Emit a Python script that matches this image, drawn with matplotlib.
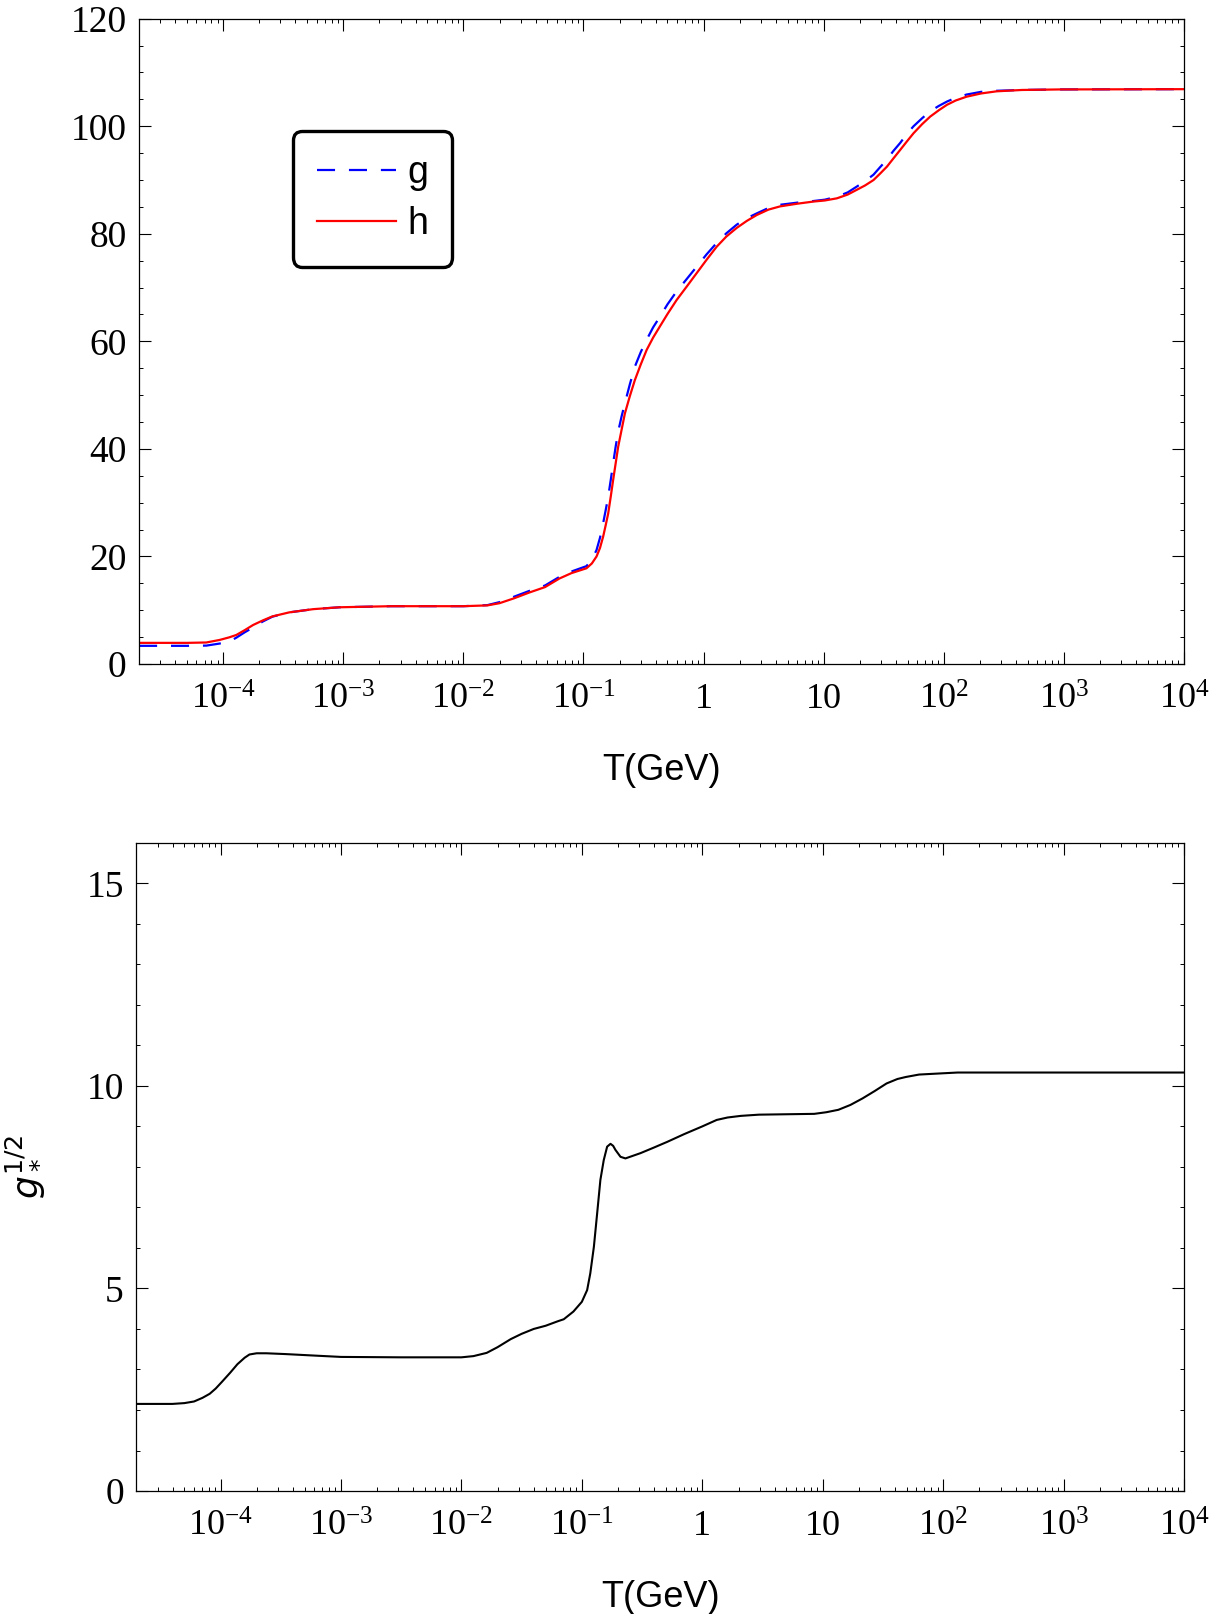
import numpy as np
import matplotlib
matplotlib.use('Agg')
import matplotlib.pyplot as plt
from matplotlib.ticker import FixedLocator, FixedFormatter, LogLocator, MultipleLocator, NullFormatter

plt.rcParams['font.family'] = ['Liberation Serif', 'DejaVu Serif']
plt.rcParams['mathtext.fontset'] = 'custom'
plt.rcParams['mathtext.rm'] = 'Liberation Serif'
plt.rcParams['mathtext.it'] = 'Liberation Serif:italic'
plt.rcParams['lines.scale_dashes'] = False

# log10(T / GeV) grid for the upper panel
logT_top = [-4.70, -4.30, -4.14, -4.03, -3.95, -3.89, -3.82, -3.75, -3.67, -3.59,
            -3.45, -3.25, -3.03, -2.60, -2.00, -1.80, -1.70, -1.58, -1.45, -1.32,
            -1.20, -1.10, -0.975, -0.93, -0.891, -0.862, -0.836, -0.815, -0.794, -0.773,
            -0.753, -0.732, -0.711, -0.683, -0.655, -0.614, -0.572, -0.523, -0.474, -0.42,
            -0.363, -0.30, -0.224, -0.14, -0.057, 0.026, 0.109, 0.19, 0.276, 0.36,
            0.443, 0.54, 0.637, 0.78, 0.915, 1.01, 1.11, 1.20, 1.277, 1.345,
            1.415, 1.47, 1.527, 1.58, 1.637, 1.69, 1.748, 1.82, 1.887, 1.96,
            2.027, 2.10, 2.19, 2.31, 2.44, 2.65, 2.97, 4.00]

h_vals = [3.93, 3.93, 4.00, 4.47, 4.95, 5.40, 6.30, 7.26, 8.10, 8.85,
          9.60, 10.20, 10.55, 10.75, 10.75, 10.90, 11.30, 12.20, 13.30, 14.30,
          15.90, 16.90, 17.80, 18.70, 20.00, 21.60, 23.70, 25.80, 28.00, 31.10,
          34.20, 37.30, 40.40, 43.50, 46.60, 49.80, 52.80, 55.70, 58.40, 60.70,
          62.80, 65.10, 67.70, 70.20, 72.70, 75.20, 77.60, 79.50, 81.10, 82.40,
          83.50, 84.50, 85.10, 85.60, 86.00, 86.20, 86.60, 87.30, 88.20, 89.00,
          90.00, 91.20, 92.50, 94.00, 95.60, 97.10, 98.70, 100.40, 101.80, 103.00,
          104.00, 104.80, 105.50, 106.10, 106.50, 106.75, 106.85, 106.90]

g_vals = [3.38, 3.38, 3.42, 3.80, 4.15, 4.90, 5.90, 6.80, 7.90, 8.80,
          9.60, 10.20, 10.55, 10.75, 10.75, 10.95, 11.50, 12.50, 13.60, 14.60,
          16.20, 17.20, 18.20, 19.40, 21.20, 23.50, 26.20, 28.60, 31.10, 34.20,
          37.30, 40.40, 43.20, 46.00, 48.50, 52.00, 55.30, 58.00, 60.30, 62.60,
          64.60, 66.90, 69.30, 71.60, 73.90, 76.20, 78.30, 80.10, 81.70, 82.90,
          83.80, 84.80, 85.40, 85.80, 86.10, 86.35, 86.90, 87.70, 88.80, 89.80,
          91.00, 92.40, 93.80, 95.40, 96.90, 98.50, 100.00, 101.50, 102.80, 103.80,
          104.60, 105.30, 105.90, 106.40, 106.60, 106.75, 106.85, 106.90]

# lower panel: g_*^{1/2}
logT_bot = [-4.70, -4.40, -4.30, -4.22, -4.15, -4.09, -4.04, -3.99, -3.92, -3.86,
            -3.80, -3.76, -3.70, -3.62, -3.46, -3.20, -3.00, -2.50, -2.00, -1.90,
            -1.79, -1.70, -1.59, -1.50, -1.40, -1.30, -1.20, -1.15, -1.07, -1.00,
            -0.956, -0.93, -0.90, -0.873, -0.846, -0.818, -0.79, -0.762, -0.74, -0.721,
            -0.679, -0.638, -0.513, -0.40, -0.29, -0.15, 0.00, 0.12, 0.21, 0.32,
            0.47, 0.70, 0.93, 1.03, 1.13, 1.23, 1.33, 1.43, 1.53, 1.62,
            1.69, 1.80, 1.99, 2.12, 4.00]

gstar_vals = [2.15, 2.15, 2.17, 2.21, 2.30, 2.40, 2.53, 2.69, 2.92, 3.13,
              3.29, 3.37, 3.40, 3.40, 3.38, 3.34, 3.31, 3.30, 3.30, 3.33,
              3.41, 3.55, 3.75, 3.88, 4.00, 4.08, 4.19, 4.24, 4.43, 4.67,
              4.96, 5.37, 6.03, 6.85, 7.68, 8.17, 8.50, 8.57, 8.52, 8.42,
              8.25, 8.21, 8.34, 8.48, 8.62, 8.81, 9.00, 9.16, 9.22, 9.26,
              9.29, 9.30, 9.31, 9.35, 9.41, 9.53, 9.69, 9.87, 10.06, 10.17,
              10.22, 10.28, 10.31, 10.33, 10.33]

xtick_vals = [1e-4, 1e-3, 1e-2, 1e-1, 1, 10, 1e2, 1e3, 1e4]
xtick_labels = [r'$10^{-4}$', r'$10^{-3}$', r'$10^{-2}$', r'$10^{-1}$', '1', '10',
                r'$10^{2}$', r'$10^{3}$', r'$10^{4}$']


def style_axes(ax, ymax, ymajor, yminor):
    ax.set_xscale('log')
    ax.set_xlim(2e-5, 1e4)
    ax.set_ylim(0, ymax)
    ax.xaxis.set_major_locator(FixedLocator(xtick_vals))
    ax.xaxis.set_major_formatter(FixedFormatter(xtick_labels))
    ax.xaxis.set_minor_locator(LogLocator(base=10, subs=np.arange(2, 10), numticks=50))
    ax.xaxis.set_minor_formatter(NullFormatter())
    ax.yaxis.set_major_locator(MultipleLocator(ymajor))
    ax.yaxis.set_minor_locator(MultipleLocator(yminor))
    ax.tick_params(which='both', direction='in', top=True, right=True)
    ax.tick_params(which='major', length=8.5, width=0.8)
    ax.tick_params(which='minor', length=3, width=0.7)
    ax.tick_params(axis='x', pad=14, labelsize=26)
    ax.tick_params(axis='y', pad=9, labelsize=27)
    for s in ax.spines.values():
        s.set_linewidth(0.9)
    ax.set_xlabel('T(GeV)', family='Liberation Sans', fontsize=26, labelpad=26)


fig = plt.figure(figsize=(12.22, 16.14), dpi=100)
ax1 = fig.add_axes([0.1139, 0.5886, 0.855, 0.3998])
ax2 = fig.add_axes([0.1116, 0.0762, 0.8573, 0.4016])

T_top = 10 ** np.array(logT_top)
ax1.plot(T_top, g_vals, color='blue', lw=1.6, dashes=(13, 10), label='g')
ax1.plot(T_top, h_vals, color='red', lw=1.6, label='h')
style_axes(ax1, 120, 20, 5)

leg = ax1.legend(loc='upper left', bbox_to_anchor=(0.147, 0.826), borderaxespad=0,
                 prop={'family': 'Liberation Sans', 'size': 27}, handlelength=2.1,
                 handletextpad=0.3, labelspacing=0.4, borderpad=0.65,
                 fancybox=True, framealpha=1)
leg.get_frame().set_edgecolor('black')
leg.get_frame().set_linewidth(2.4)
leg.get_frame().set_boxstyle('round,pad=0,rounding_size=0.25')

ax2.plot(10 ** np.array(logT_bot), gstar_vals, color='black', lw=1.5)
style_axes(ax2, 16, 5, 1)
ax2.set_ylabel(r'$g_*^{1/2}$', fontsize=26, math_fontfamily='dejavusans', labelpad=30)

fig.savefig('out.png', dpi=100)
